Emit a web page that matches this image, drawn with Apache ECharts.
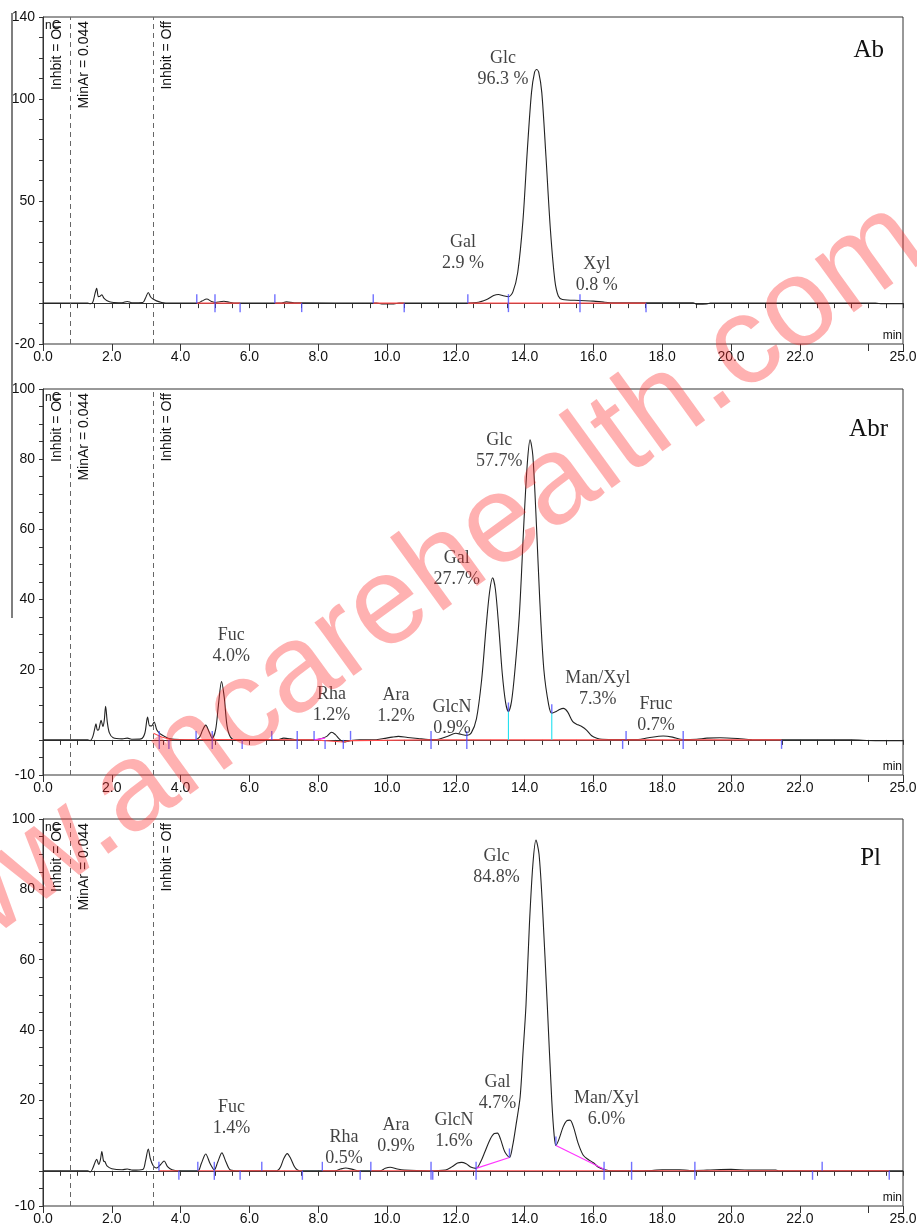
<!DOCTYPE html>
<html><head><meta charset="utf-8">
<script src="https://cdn.jsdelivr.net/npm/echarts/dist/echarts.min.js"></script>
<style>html,body{margin:0;padding:0;background:#fff}#c{width:917px;height:1230px}</style>
</head><body><div id="c"></div>
<script>
// ---------------- DATA ----------------
const sampleNames = ['Ab', 'Abr', 'Pl'];
const eventTimes = [0.0, 0.8, 3.2];
const eventTexts = ['Inhbit = On', 'MinAr = 0.044', 'Inhbit = Off'];
const dashedTimes = [0.8, 3.2];
const xLabelValues = [0, 2, 4, 6, 8, 10, 12, 14, 16, 18, 20, 22, 25];
const yLabelsAb = [140, 100, 50, -20];
const yLabelsAbr = [100, 80, 60, 40, 20, -10];
const yLabelsPl = [100, 80, 60, 40, 20, -10];

// chromatogram traces [time (min), signal (nC)]
const abTrace = [[0,0],[1.3,0],[1.38,-0.3],[1.45,0.6],[1.51,4.5],[1.56,7.3],[1.61,3.2],[1.66,3.4],[1.71,4.1],[1.77,2.4],[1.85,1.3],[2.0,0.4],[2.3,0.2],[2.45,0.8],[2.58,0.2],[2.9,0.3],[2.98,2.5],[3.06,5.2],[3.13,3],[3.2,2],[3.3,1.1],[3.45,0.3],[3.7,0],[4.5,0],[4.62,1],[4.76,2],[4.9,0.8],[5.02,0.3],[5.14,0.7],[5.26,0.9],[5.42,0.4],[5.6,0],[6.9,0],[7.08,0.6],[7.3,0.1],[9.7,0],[9.85,-0.4],[10.2,-0.4],[10.35,0],[12.0,0],[12.6,0.3],[12.9,1.8],[13.1,3.7],[13.24,4.2],[13.38,3.6],[13.53,3.1],[13.66,5.5],[13.8,15],[13.95,40],[14.08,75],[14.2,103],[14.29,113],[14.35,114.3],[14.41,113],[14.5,103],[14.62,72],[14.75,36],[14.88,11],[14.98,3.5],[15.1,1.8],[15.6,1.3],[16.0,1],[16.3,0.5],[16.6,0.2],[18.9,0.2],[19.0,-0.5],[19.3,-0.4],[19.4,0],[24.2,0],[24.4,-0.3],[25,-0.3]];
const abrTrace = [[0,0],[1.3,0],[1.37,-0.2],[1.45,1],[1.51,3.5],[1.54,4.6],[1.58,2.8],[1.62,2.9],[1.69,5.6],[1.74,3.8],[1.78,5.5],[1.82,9.6],[1.87,5],[1.93,2],[2.04,0.6],[2.3,0.3],[2.45,0.5],[2.6,0.2],[2.85,0.3],[2.96,1.9],[3.04,6.5],[3.1,4],[3.16,4],[3.23,5.1],[3.31,2.8],[3.4,1.8],[3.5,1.2],[3.69,0.3],[4.4,0],[4.55,0.8],[4.64,2.8],[4.73,4.2],[4.82,2.5],[4.92,0.5],[5.02,3],[5.1,10],[5.19,16.6],[5.27,12],[5.35,4],[5.45,0.8],[5.6,0],[6.8,0],[7.0,0.5],[7.2,0.3],[7.4,0],[7.9,0],[8.1,0.4],[8.25,1],[8.39,2.2],[8.5,1.5],[8.62,0.2],[8.75,-0.6],[8.9,-0.3],[9.2,0],[9.6,0],[9.9,0.4],[10.15,0.8],[10.33,1],[10.6,0.7],[10.9,0.4],[11.2,0.1],[11.5,0.2],[11.75,1],[12.0,1.9],[12.15,1.6],[12.32,1.3],[12.45,2],[12.6,6],[12.75,17],[12.88,32],[12.98,42],[13.07,46.2],[13.15,43],[13.25,32],[13.35,19],[13.45,10.5],[13.53,8.1],[13.62,11],[13.72,20],[13.85,36],[13.98,62],[14.08,79],[14.16,85.5],[14.24,81],[14.35,60],[14.44,40],[14.56,20],[14.7,10],[14.79,7.6],[14.9,8],[15.0,8.6],[15.13,9],[15.25,8],[15.4,5.2],[15.55,4.3],[15.66,3.8],[15.8,2.8],[15.95,1.2],[16.1,0.5],[16.25,0.2],[17.3,0.1],[17.6,0.6],[18.03,1.1],[18.3,0.8],[18.6,0.1],[19.0,0.2],[19.3,0.5],[19.68,0.6],[20.2,0.4],[20.6,0.1],[23.5,0],[24.2,-0.2],[25,-0.2]];
const plTrace = [[0,0],[1.3,0],[1.38,-0.3],[1.45,0.8],[1.52,2.6],[1.56,3.3],[1.62,1.8],[1.67,3.2],[1.71,5.5],[1.76,2.8],[1.8,2.6],[1.86,1.4],[2.0,0.6],[2.3,0.3],[2.45,0.5],[2.6,0.2],[2.9,0.4],[2.98,2.8],[3.06,6.2],[3.12,3.5],[3.2,1.5],[3.3,0.8],[3.42,1.8],[3.52,2.8],[3.62,1.2],[3.75,0.3],[3.95,0],[4.5,0],[4.6,2],[4.73,4.8],[4.86,2],[4.98,0.3],[5.08,2.5],[5.2,5.1],[5.32,2.5],[5.45,0.2],[5.7,0],[6.8,0],[6.9,1],[7.0,3.5],[7.1,4.9],[7.2,3.5],[7.32,1],[7.45,0],[8.5,0],[8.65,0.5],[8.8,0.8],[9.0,0.4],[9.2,0],[9.8,0],[9.95,0.7],[10.09,1],[10.3,0.5],[10.5,0.2],[11.2,0],[11.7,0.2],[11.9,1.2],[12.05,2.2],[12.17,2.4],[12.3,2],[12.45,1],[12.59,0.7],[12.72,2.5],[12.85,5.5],[13.0,9],[13.12,10.6],[13.21,10.7],[13.3,9],[13.42,5.5],[13.56,3.8],[13.65,7],[13.75,13],[13.87,21],[13.95,33],[14.04,47],[14.14,70],[14.24,87],[14.33,94],[14.42,90],[14.52,75],[14.66,47],[14.79,20],[14.86,10],[14.91,7.2],[15.0,9],[15.12,12.5],[15.22,14.2],[15.32,14.4],[15.42,12.5],[15.55,8],[15.7,4.5],[15.85,3.2],[16.0,2.3],[16.15,1],[16.34,0.3],[16.5,0],[17.7,0.1],[18.0,0.3],[18.5,0.3],[18.8,0.1],[19.3,0.2],[20.0,0.4],[20.5,0.2],[21.3,0.2],[21.4,0],[25,0]];

// integration baselines (red), skim lines (magenta), drop lines (cyan)
const abBaselines = [[[4.47,0],[5.73,0]], [[6.74,0],[7.52,0]], [[9.6,0],[10.5,0]], [[12.35,0],[17.53,0]]];
const abrBaselines = [[[3.21,1.9],[3.45,0.8],[3.69,0.2],[7.88,0],[8.73,-0.6],[8.94,-0.2],[11.28,0],[21.47,0]]];
const plBaselines = [[[3.37,0],[3.95,0]], [[4.5,0],[7.54,0]], [[8.12,0],[9.22,0]], [[9.53,0],[24.6,0]]];
const abrSkims = [[[7.88,0],[8.2,0.5]]];
const plSkims = [[[12.59,0.7],[13.56,3.8]], [[14.91,7.2],[16.34,0.3]]];
const abrDrops = [[[13.53,8.1],[13.53,0]], [[14.79,7.6],[14.79,0]]];

// peak delimiter ticks (time)
const abTickUp = [4.47, 5.0, 6.74, 9.6, 12.35, 13.53, 15.61];
const abTickDown = [5.0, 5.73, 7.52, 10.5, 13.53, 15.61, 17.53];
const abrTickUp = [3.38, 4.45, 4.92, 6.65, 7.39, 7.88, 8.94, 11.28, 12.32, 16.95, 18.61];
const abrTickDown = [3.38, 3.66, 4.92, 5.79, 7.39, 8.2, 8.73, 11.28, 12.32, 16.85, 18.61, 21.47];
const abrValleyTicks = [[13.53, 8.1], [14.79, 7.6]];
const plTickUp = [3.37, 4.5, 4.98, 6.36, 8.12, 9.53, 11.28, 12.59, 16.31, 17.11, 18.95, 22.65];
const plTickDown = [3.95, 4.98, 5.73, 7.54, 9.22, 11.28, 11.33, 12.59, 16.31, 17.11, 18.95, 22.37, 24.6];
const plValleyTicks = [[13.56, 3.8], [14.91, 7.2]];

// peak annotations
const abPeakNames = ['Gal\n2.9 %', 'Glc\n96.3 %', 'Xyl\n0.8 %'];
const abPeakAnchor = [[12.21, 24.4], [13.37, 114.7], [16.10, 13.9]];
const abrPeakNames = ['Fuc\n4.0%', 'Rha\n1.2%', 'Ara\n1.2%', 'GlcN\n0.9%', 'Gal\n27.7%', 'Glc\n57.7%', 'Man/Xyl\n7.3%', 'Fruc\n0.7%'];
const abrPeakAnchor = [[5.47, 26.9], [8.39, 10.0], [10.26, 9.8], [11.89, 6.4], [12.03, 48.9], [13.26, 82.5], [16.13, 14.5], [17.82, 7.3]];
const plPeakNames = ['Fuc\n1.4%', 'Rha\n0.5%', 'Ara\n0.9%', 'GlcN\n1.6%', 'Gal\n4.7%', 'Glc\n84.8%', 'Man/Xyl\n6.0%'];
const plPeakAnchor = [[5.48, 15.1], [8.75, 6.5], [10.26, 10.1], [11.95, 11.4], [13.21, 22.2], [13.18, 86.3], [16.38, 17.6]];

// ---------------- LAYOUT ----------------
const grids = [
  {left: 43, top: 17, width: 860, height: 327},
  {left: 43, top: 389, width: 860, height: 386},
  {left: 43, top: 819, width: 860, height: 387}
];
const yCfg = [
  {min: -20, max: 140, interval: 10, labels: yLabelsAb},
  {min: -10, max: 100, interval: 5, labels: yLabelsAbr},
  {min: -10, max: 100, interval: 5, labels: yLabelsPl}
];
const panels = [
  {trace: abTrace, base: abBaselines, skim: [], drop: [], up: abTickUp, down: abTickDown, valley: [], names: abPeakNames, anchors: abPeakAnchor},
  {trace: abrTrace, base: abrBaselines, skim: abrSkims, drop: abrDrops, up: abrTickUp, down: abrTickDown, valley: abrValleyTicks, names: abrPeakNames, anchors: abrPeakAnchor},
  {trace: plTrace, base: plBaselines, skim: plSkims, drop: [], up: plTickUp, down: plTickDown, valley: plValleyTicks, names: plPeakNames, anchors: plPeakAnchor}
];

const AX = '#333';
const SANS = '"Liberation Sans", Arial, sans-serif';
const SERIF = '"Liberation Serif", "Times New Roman", serif';

const option = {
  animation: false,
  backgroundColor: '#fff',
  grid: grids.map(g => Object.assign({show: true, borderColor: AX, borderWidth: 1, backgroundColor: 'transparent', containLabel: false, outerBoundsMode: 'none'}, g)),
  xAxis: [],
  yAxis: [],
  series: []
};

grids.forEach((g, i) => {
  option.xAxis.push({
    type: 'value', gridIndex: i, min: 0, max: 25, interval: 0.5, position: 'bottom',
    axisLine: {show: true, lineStyle: {color: AX, width: 1}},
    axisTick: {show: true, length: 5, lineStyle: {color: AX}},
    splitLine: {show: false},
    axisLabel: {show: true, margin: 6, fontFamily: SANS, fontSize: 14, color: '#111',
      formatter: v => xLabelValues.indexOf(Math.round(v * 100) / 100) >= 0 ? v.toFixed(1) : ''}
  });
});
grids.forEach((g, i) => {
  option.xAxis.push({
    type: 'value', gridIndex: i, min: 0, max: 25, interval: 2, position: 'bottom',
    axisLine: {show: false}, axisLabel: {show: false}, splitLine: {show: false},
    axisTick: {show: true, length: 7, lineStyle: {color: AX}}
  });
});
grids.forEach((g, i) => {
  const c = yCfg[i];
  option.yAxis.push({
    type: 'value', gridIndex: i, min: c.min, max: c.max, interval: c.interval,
    axisLine: {show: true, lineStyle: {color: AX, width: 1}},
    axisTick: {show: true, length: 4, lineStyle: {color: AX}},
    splitLine: {show: false},
    axisLabel: {show: true, margin: 8, fontFamily: SANS, fontSize: 14, color: '#111',
      formatter: v => c.labels.indexOf(v) >= 0 ? String(v) : ''}
  });
});

panels.forEach((p, i) => {
  option.series.push({
    type: 'line', xAxisIndex: i, yAxisIndex: i, data: p.trace, showSymbol: false,
    smooth: 0.3, lineStyle: {color: '#222', width: 1.1}, z: 3, silent: true,
    markLine: {silent: true, symbol: 'none', label: {show: false}, animation: false,
      lineStyle: {type: [5, 4], color: '#666', width: 1},
      data: dashedTimes.map(t => ({xAxis: t}))}
  });
  const lineSets = [[p.base, '#ff4a4a'], [p.skim, '#ff33ff'], [p.drop, '#22e0f0']];
  lineSets.forEach(([segs, col]) => {
    if (!segs.length) return;
    option.series.push({
      type: 'lines', coordinateSystem: 'cartesian2d', xAxisIndex: i, yAxisIndex: i, polyline: true,
      data: segs.map(s => ({coords: s})), lineStyle: {color: col, width: 1.1, opacity: 1}, z: 4, silent: true
    });
  });
  option.series.push({
    type: 'scatter', xAxisIndex: i, yAxisIndex: i, symbol: 'rect', symbolSize: [1.4, 9], symbolOffset: [0, -4.5],
    data: p.up.map(t => [t, 0]).concat(p.valley), itemStyle: {color: '#4d4dff'}, z: 5, silent: true
  });
  option.series.push({
    type: 'scatter', xAxisIndex: i, yAxisIndex: i, symbol: 'rect', symbolSize: [1.4, 9], symbolOffset: [0, 4.5],
    data: p.down.map(t => [t, 0]), itemStyle: {color: '#4d4dff'}, z: 5, silent: true
  });
  option.series.push({
    type: 'scatter', xAxisIndex: i, yAxisIndex: i, symbolSize: 1, itemStyle: {color: 'rgba(0,0,0,0)'}, z: 6, silent: true,
    data: p.names.map((n, k) => ({name: n, value: p.anchors[k]})),
    label: {show: true, position: 'inside', formatter: d => d.name, fontFamily: SERIF, fontSize: 18, lineHeight: 21, color: '#111', align: 'center', verticalAlign: 'middle'}
  });
});

const chart = echarts.init(document.getElementById('c'), null, {renderer: 'canvas'});
chart.setOption(option);

// ---------------- ANNOTATIONS (graphic) ----------------
const graphic = [];
graphic.push({type: 'line', shape: {x1: 12, y1: 13, x2: 12, y2: 618}, style: {stroke: '#555', lineWidth: 1.5}, z: 10});
grids.forEach((g, i) => {
  const top = g.top, bottom = g.top + g.height, right = g.left + g.width;
  eventTexts.forEach((txt, k) => {
    const px = chart.convertToPixel({xAxisIndex: i}, eventTimes[k]);
    graphic.push({type: 'text', x: px + 14, y: top + 4, rotation: Math.PI / 2,
      style: {text: txt, font: '14px ' + SANS, fill: '#111', align: 'right', verticalAlign: 'middle'}, z: 10});
  });
  graphic.push({type: 'text', x: g.left + 2, y: top + 9,
    style: {text: 'nC', font: '12px ' + SANS, fill: '#111', align: 'left', verticalAlign: 'middle'}, z: 9});
  graphic.push({type: 'text', x: right - 1, y: bottom - 8,
    style: {text: 'min', font: '12px ' + SANS, fill: '#111', align: 'right', verticalAlign: 'middle'}, z: 10});
});
const nameY = [50, 429, 858];
const nameX = [884, 888, 881];
sampleNames.forEach((n, i) => {
  graphic.push({type: 'text', x: nameX[i], y: nameY[i],
    style: {text: n, font: '25px ' + SERIF, fill: '#111', align: 'right', verticalAlign: 'middle'}, z: 10});
});
// watermark
graphic.push({type: 'text', x: 388, y: 608, rotation: 36 * Math.PI / 180, silent: true,
  style: {text: 'www.ancarehealth.com', font: '125px ' + SANS, fill: 'rgba(255,40,40,0.36)', align: 'center', verticalAlign: 'middle'}, z: 100});
chart.setOption({graphic: graphic});
</script>
</body></html>
